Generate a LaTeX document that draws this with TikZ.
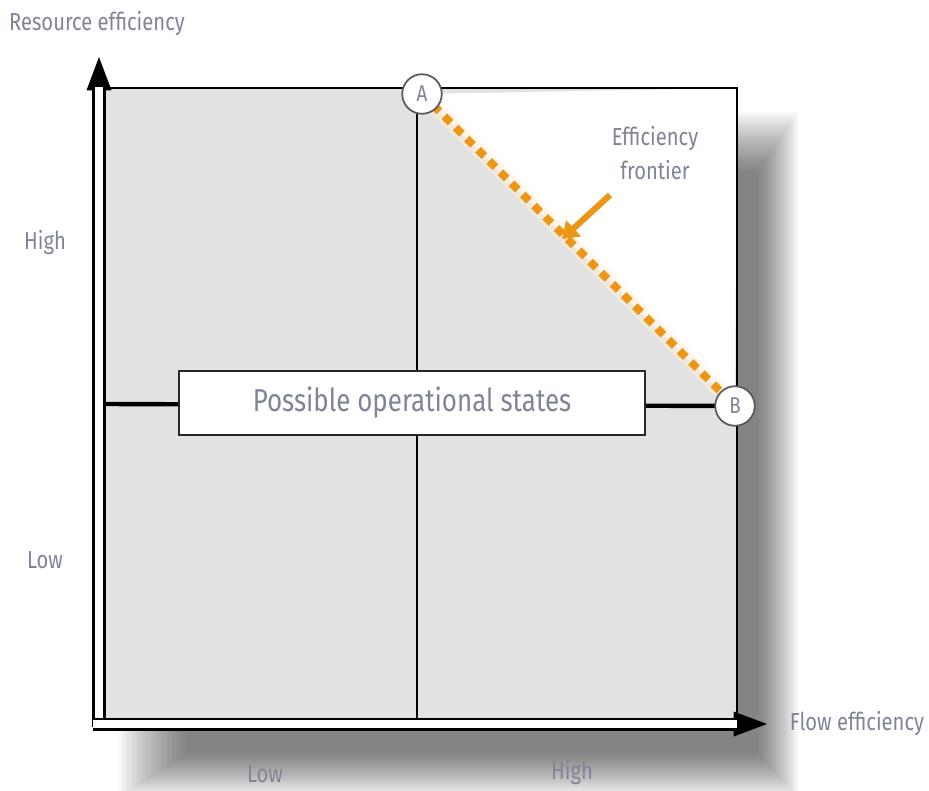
\documentclass[tikz,border=0pt]{standalone}
\usepackage{fontspec}
\setmainfont{Fira Sans}[FakeStretch=0.82]
\usetikzlibrary{arrows.meta, positioning, calc}
\definecolor{lbl}{RGB}{128,132,152}
\definecolor{fron}{RGB}{236,150,22}
\definecolor{cell}{RGB}{226,226,226}
\tikzset{
  lab/.style={text=lbl, font=\fontsize{14}{19}\selectfont, align=center, inner sep=0pt},
  axis/.style={line width=1.2pt, double=white, double distance=5pt},
  axhead/.style={line width=1pt, -{Triangle[length=19pt, width=14pt]}},
  corner/.style={circle, draw=gray!70!black, fill=white, line width=1pt,
                 minimum size=22.5pt, inner sep=0pt, text=lbl, font=\fontsize{13}{13}\selectfont},
  opbox/.style={rectangle, draw=black!85, fill=white, line width=1.3pt,
                minimum width=93.2mm, minimum height=12.8mm, text=lbl,
                font=\fontsize{18}{20}\selectfont},
  frontier/.style={fron, line width=4.5pt, dash pattern=on 5pt off 4pt},
  hint/.style={fron, line width=3.5pt, -{Triangle[length=9pt, width=12pt]}}
}

\begin{document}
\begin{tikzpicture}[x=0.2mm, y=-0.2mm]
  \useasboundingbox (0,0) rectangle (929,790);
  \coordinate (origin) at (99,724);
  \coordinate (ytip) at (99,57);
  \coordinate (xtip) at (767,724);
  \coordinate (tl) at (105,88);
  \coordinate (tr) at (737,88);
  \coordinate (br) at (737,718);
  \coordinate (a) at (422,94);
  \coordinate (b) at (735,406);

  % shadow
  \foreach \k in {0,...,27}
    \fill[black, opacity=0.022] (118+2.5*\k, 112+2.2*\k) rectangle (798-1.5*\k, 797-1.6*\k);

  \fill[cell] (tl) rectangle (br);
  \fill[white] (a) -- (tr) -- (b) -- cycle;
  \draw[line width=1.3pt] (tl) -- (tr) -- (br);
  \draw[line width=1.2pt] (417,88) -- (417,718);
  \draw[line width=2.5pt] (105,404) -- (b);

  \node[opbox] (ops) at (412,403) {Possible operational states};

  % frontier
  \draw[fron!15, line width=8pt, opacity=0.6] (a) -- (b);
  \draw[frontier] (a) -- (b);
  \node[corner] (A) at (a) {A};
  \node[corner] (B) at (b) {B};

  % axes
  \draw[axhead] (origin) -- (ytip);
  \draw[axhead] (origin) -- (xtip);
  \draw[axis, shorten >=17pt] (origin |- 0,727) -- (ytip);
  \draw[axis, shorten >=17pt] (93,724) -- (xtip);

  \node[lab] (ry) at (97,24) {Resource efficiency};
  \node[lab] (fx) at (857,724) {Flow efficiency};
  \node[lab] (yhi) at (45,243) {High};
  \node[lab] (ylo) at (45,560) {Low};
  \node[lab] (xlo) at (265,774) {Low};
  \node[lab] (xhi) at (572,773) {High};
  \node[lab] (ef) at (655,153) {Efficiency\\frontier};

  \coordinate (hs) at (610,195);
  \coordinate (he) at (562,239);
  \draw[hint] (hs) -- (he);
\end{tikzpicture}
\end{document}
